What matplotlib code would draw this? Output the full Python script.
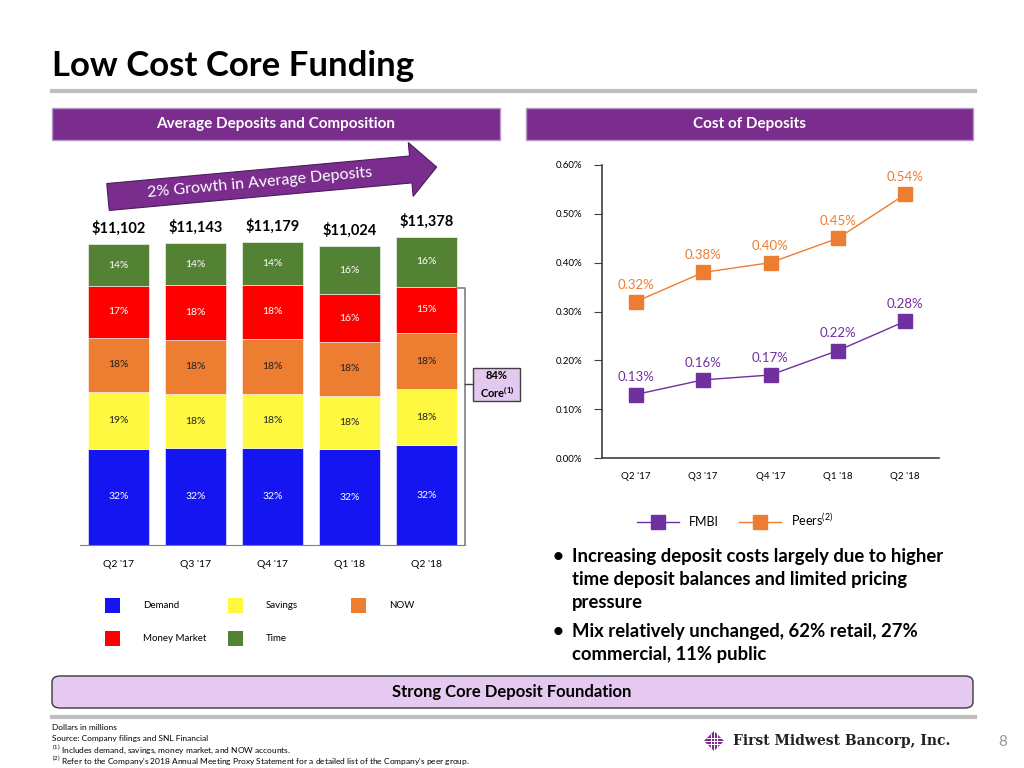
import numpy as np
import matplotlib
matplotlib.use("Agg")
import matplotlib.pyplot as plt
from matplotlib.patches import Rectangle, Polygon, FancyBboxPatch
from matplotlib.lines import Line2D

plt.rcParams['font.family'] = ['Lato', 'DejaVu Sans']

# Average deposits ($ millions) and composition (%)
quarters = ["Q2 '17", "Q3 '17", "Q4 '17", "Q1 '18", "Q2 '18"]
totals = [11102, 11143, 11179, 11024, 11378]
demand = [32, 32, 32, 32, 32]
savings = [19, 18, 18, 18, 18]
now_acc = [18, 18, 18, 18, 18]
money_market = [17, 18, 18, 16, 15]
time_dep = [14, 14, 14, 16, 16]

segment_names = ["Demand", "Savings", "NOW", "Money Market", "Time"]
segment_colors = ["#1515F2", "#FFF840", "#ED7D31", "#FF0000", "#548235"]
label_colors = ["white", "#222222", "#222222", "white", "white"]

# Cost of deposits (%)
fmbi = [0.13, 0.16, 0.17, 0.22, 0.28]
peers = [0.32, 0.38, 0.40, 0.45, 0.54]

PURPLE = "#7B2D8E"
FMBI_C = "#7030A0"
PEER_C = "#ED7D31"

W, H = 1024, 768


def fx(x):
    return x / W


def fy(y):
    return 1 - y / H


fig = plt.figure(figsize=(10.24, 7.68), dpi=100)

# title and rules
fig.text(fx(52), fy(66), "Low Cost Core Funding", fontsize=25, fontweight='bold',
         va='center', ha='left')
fig.add_artist(Line2D([fx(52), fx(975)], [fy(91), fy(91)], color='#BFBFBF', lw=3))
fig.add_artist(Line2D([fx(52), fx(975)], [fy(717), fy(717)], color='#BFBFBF', lw=3))

# section headers
for x0, x1, txt in [(52, 500, "Average Deposits and Composition"),
                    (526, 973, "Cost of Deposits")]:
    fig.add_artist(Rectangle((fx(x0), fy(140)), fx(x1) - fx(x0), fy(108) - fy(140),
                             transform=fig.transFigure, facecolor=PURPLE,
                             edgecolor='#B898C8', lw=1))
    fig.text(fx((x0 + x1) / 2), fy(124), txt, color='white', fontsize=11,
             fontweight='bold', ha='center', va='center')

# ---- stacked bars ----
ax = fig.add_axes([fx(80), fy(545), fx(465) - fx(80), fy(220) - fy(545)])
segments = [demand, savings, now_acc, money_market, time_dep]
pct_sum = np.sum(segments, axis=0)
x = np.arange(len(quarters))
bottom = np.zeros(len(quarters))
for name, vals, col, lc in zip(segment_names, segments, segment_colors, label_colors):
    h = np.array(totals) * np.array(vals) / pct_sum
    ax.bar(x, h, bottom=bottom, width=0.8, color=col, edgecolor='white', lw=0.4, label=name)
    for xi, b, hi, v in zip(x, bottom, h, vals):
        ax.text(xi, b + hi / 2, f"{v}%", ha='center', va='center', fontsize=7.5, color=lc)
    bottom += h
for xi, t in zip(x, totals):
    ax.annotate(f"${t:,}", (xi, t), xytext=(0, 6), textcoords='offset points',
                ha='center', va='bottom', fontsize=10.5, fontweight='bold')
ax.set_xlim(-0.5, 4.5)
ax.set_ylim(0, 12000)
ax.set_xticks(x)
ax.set_xticklabels(quarters, fontsize=7.5)
ax.tick_params(axis='x', length=0, pad=11)
ax.set_yticks([])
for s in ['left', 'top', 'right']:
    ax.spines[s].set_visible(False)
ax.spines['bottom'].set_color('#808080')

# core bracket
fig.add_artist(Line2D([fx(457), fx(465), fx(465)], [fy(288), fy(288), fy(545)],
                      color='#808080', lw=1.2))
fig.add_artist(Line2D([fx(465), fx(473)], [fy(384), fy(384)], color='#404040', lw=1))
fig.add_artist(Rectangle((fx(473), fy(401)), fx(520) - fx(473), fy(368) - fy(401),
                         transform=fig.transFigure, facecolor='#E3C8EF',
                         edgecolor='#404040', lw=1))
fig.text(fx(497), fy(376), "84%", fontsize=8, fontweight='bold', ha='center', va='center')
fig.text(fx(497), fy(392), r"Core$^{\mathregular{(1)}}$", fontsize=8, fontweight='bold',
         ha='center', va='center')

# growth arrow
theta = np.deg2rad(5.2)
tail = np.array([108.0, 197.0])
d = np.array([np.cos(theta), -np.sin(theta)])
n = np.array([np.sin(theta), np.cos(theta)])
L, hl, hw, hh = 330, 26, 13.5, 27
local = [(0, -hw), (L - hl, -hw), (L - hl, -hh), (L, 0), (L - hl, hh), (L - hl, hw), (0, hw)]
pts = [tail + u * d + v * n for u, v in local]
fig.add_artist(Polygon([(fx(p[0]), fy(p[1])) for p in pts], closed=True,
                       transform=fig.transFigure, facecolor=PURPLE, edgecolor='#4A1A5A', lw=0.8))
c = tail + 152 * d
fig.text(fx(c[0]), fy(c[1]), "2% Growth in Average Deposits", color='white', fontsize=11.5,
         rotation=5.2, rotation_mode='anchor', ha='center', va='center')

# bar legend
for i, (name, col) in enumerate(zip(segment_names, segment_colors)):
    cx = 105 + (i % 3) * 123
    cy = 598 + (i // 3) * 33
    fig.add_artist(Rectangle((fx(cx), fy(cy + 15)), fx(15), 15 / H,
                             transform=fig.transFigure, facecolor=col, edgecolor='none'))
    fig.text(fx(cx + 38), fy(cy + 7.5), name, fontsize=7, va='center', ha='left')

# ---- cost of deposits line chart ----
ax2 = fig.add_axes([fx(602), fy(458), fx(939) - fx(602), fy(165) - fy(458)])
l1, = ax2.plot(x, fmbi, color=FMBI_C, lw=1, marker='s', markersize=9.5, label='FMBI')
l2, = ax2.plot(x, peers, color=PEER_C, lw=1, marker='s', markersize=9.5,
               label=r"Peers$^{\mathregular{(2)}}$")
for xi, v in zip(x, fmbi):
    ax2.annotate(f"{v:.2f}%", (xi, v), xytext=(0, 8), textcoords='offset points',
                 ha='center', va='bottom', fontsize=9.5, color=FMBI_C)
for xi, v in zip(x, peers):
    ax2.annotate(f"{v:.2f}%", (xi, v), xytext=(0, 8), textcoords='offset points',
                 ha='center', va='bottom', fontsize=9.5, color=PEER_C)
ax2.set_xlim(-0.5, 4.5)
ax2.set_ylim(0, 0.6)
ax2.set_yticks(np.arange(0, 0.61, 0.1))
ax2.set_yticklabels([f"{v:.2f}%" for v in np.arange(0, 0.61, 0.1)], fontsize=7)
ax2.set_xticks(x)
ax2.set_xticklabels(quarters, fontsize=7)
ax2.tick_params(axis='x', length=0, pad=10)
ax2.tick_params(axis='y', length=6, pad=8, color='#404040')
for s in ['top', 'right']:
    ax2.spines[s].set_visible(False)
for s in ['left', 'bottom']:
    ax2.spines[s].set_color('#404040')
    ax2.spines[s].set_linewidth(1.2)
ax2.legend(handles=[l1, l2], loc='center', bbox_to_anchor=(fx(735), fy(520)),
           bbox_transform=fig.transFigure, ncol=2, frameon=False, fontsize=9,
           handlelength=3.4, handletextpad=0.8, columnspacing=1.6)

# bullets
bullets = [(548, "Increasing deposit costs largely due to higher\n"
                 "time deposit balances and limited pricing\npressure"),
           (623, "Mix relatively unchanged, 62% retail, 27%\ncommercial, 11% public")]
for ytop, txt in bullets:
    fig.text(fx(553), fy(ytop), "\u2022", fontsize=13.3, fontweight='bold', va='top')
    fig.text(fx(572), fy(ytop), txt, fontsize=13.3, fontweight='bold', va='top',
             ha='left', linespacing=1.42)

# bottom banner
fig.add_artist(FancyBboxPatch((fx(52), fy(708)), fx(973) - fx(52), fy(676) - fy(708),
                              boxstyle="round,pad=0,rounding_size=0.008",
                              transform=fig.transFigure, facecolor='#E6C9F0',
                              edgecolor='#3A3A3A', lw=1))
fig.text(fx(512), fy(692), "Strong Core Deposit Foundation", fontsize=12, fontweight='bold',
         ha='center', va='center')

# footnotes
notes = ["Dollars in millions",
         "Source: Company filings and SNL Financial",
         r"$^{\mathregular{(1)}}$ Includes demand, savings, money market, and NOW accounts.",
         r"$^{\mathregular{(2)}}$ Refer to the Company's 2018 Annual Meeting Proxy Statement for a detailed list of the Company's peer group."]
for i, t in enumerate(notes):
    fig.text(fx(52), fy(727 + i * 11.5), t, fontsize=6, va='center', ha='left')

# logo
cx, cy, r = 714, 741, 10
fig.add_artist(Polygon([(fx(cx), fy(cy - r)), (fx(cx + r), fy(cy)), (fx(cx), fy(cy + r)),
                        (fx(cx - r), fy(cy))], closed=True, transform=fig.transFigure,
                       facecolor=PURPLE, edgecolor='none'))
for off in (-3, 0, 3):
    fig.add_artist(Line2D([fx(cx + off), fx(cx + off)], [fy(cy - r + abs(off)), fy(cy + r - abs(off))],
                          color='white', lw=0.7))
    fig.add_artist(Line2D([fx(cx - r + abs(off)), fx(cx + r - abs(off))], [fy(cy + off), fy(cy + off)],
                          color='white', lw=0.7))
fig.text(fx(733), fy(741), "First Midwest Bancorp, Inc.", family='DejaVu Serif', fontsize=10,
         fontweight='bold', color='#222222', va='center', ha='left')
fig.text(fx(1003), fy(742), "8", fontsize=11, color='#999999', ha='center', va='center')

fig.savefig("out.png", dpi=100)
